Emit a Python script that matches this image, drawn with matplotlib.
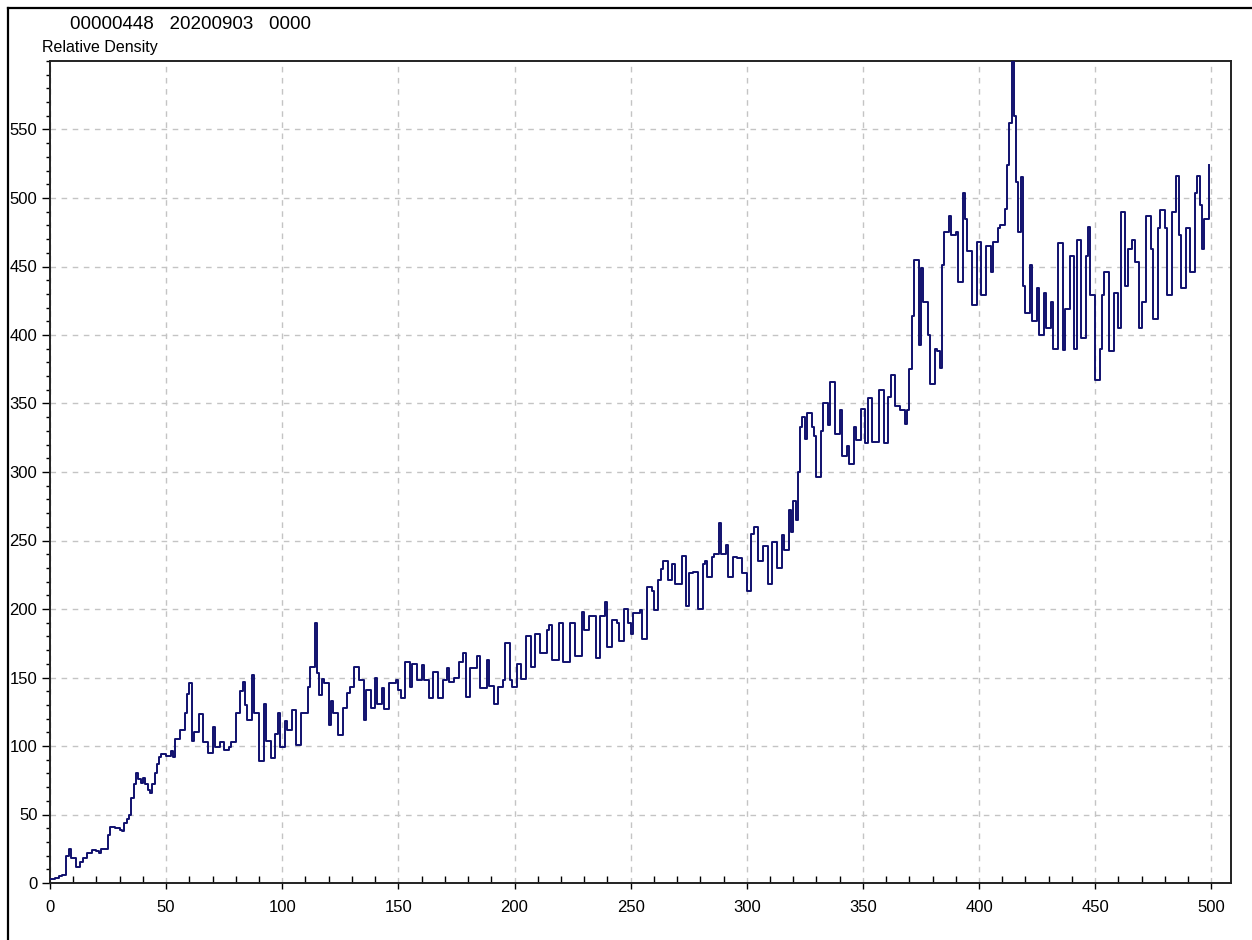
import matplotlib
matplotlib.use("Agg")
import matplotlib.pyplot as plt
from matplotlib.lines import Line2D
from matplotlib.ticker import MultipleLocator, FixedLocator

plt.rcParams['font.family'] = ['Liberation Sans', 'DejaVu Sans']

# Density profile samples: position along the lane and relative density
position = [
    0, 2, 4, 5, 7, 8, 9, 11, 13, 14, 16, 18, 20, 21, 22, 24, 25, 26, 28, 30,
    31, 32, 33, 34, 35, 36, 37, 38, 39, 40, 41, 42, 43, 44, 45, 46, 47, 48, 50, 52,
    53, 54, 56, 58, 59, 60, 61, 62, 64, 66, 68, 70, 71, 73, 75, 77, 78, 80, 82, 83,
    84, 85, 87, 88, 90, 92, 93, 95, 97, 98, 99, 101, 102, 104, 106, 108, 110, 111, 112, 114,
    115, 116, 117, 118, 120, 121, 122, 124, 126, 128, 129, 131, 133, 135, 136, 138, 140, 141, 143, 144,
    146, 149, 150, 151, 153, 155, 156, 158, 160, 161, 163, 165, 167, 169, 171, 172, 174, 176, 178, 179,
    181, 184, 185, 188, 189, 191, 193, 195, 196, 198, 199, 201, 203, 205, 207, 209, 211, 214, 215, 216,
    219, 221, 224, 226, 229, 230, 232, 235, 237, 239, 240, 242, 244, 245, 247, 249, 250, 251, 254, 255,
    257, 259, 260, 262, 263, 264, 266, 268, 269, 272, 274, 275, 277, 279, 281, 282, 283, 285, 286, 288,
    289, 291, 292, 294, 296, 298, 300, 302, 303, 305, 307, 309, 311, 313, 315, 316, 318, 319, 320, 321,
    322, 323, 324, 325, 326, 328, 329, 330, 332, 333, 335, 336, 338, 340, 341, 343, 344, 346, 347, 349,
    351, 352, 354, 357, 359, 361, 362, 364, 366, 368, 369, 370, 371, 372, 374, 375, 376, 378, 379, 381,
    382, 383, 384, 385, 387, 388, 390, 391, 393, 394, 395, 397, 399, 401, 403, 405, 406, 408, 409, 411,
    412, 413, 414, 415, 416, 417, 418, 419, 420, 422, 423, 425, 426, 428, 429, 431, 432, 434, 436, 437,
    439, 441, 442, 444, 446, 447, 448, 450, 452, 453, 454, 456, 458, 460, 461, 463, 464, 466, 467, 469,
    470, 472, 474, 475, 477, 478, 480, 481, 483, 485, 486, 487, 489, 491, 493, 494, 495, 496, 497, 499,
]
density = [
    3, 4, 5, 6, 20, 25, 18, 12, 15, 18, 22, 24, 23, 22, 25, 25, 35, 41, 40, 39,
    38, 44, 47, 50, 62, 72, 80, 76, 73, 77, 72, 68, 66, 72, 80, 87, 92, 94, 93, 96,
    92, 105, 112, 124, 138, 146, 104, 110, 123, 103, 95, 114, 99, 103, 97, 99, 103, 124, 140, 147,
    130, 119, 152, 124, 89, 131, 104, 91, 109, 124, 99, 118, 112, 126, 101, 124, 124, 143, 158, 190,
    153, 137, 149, 146, 115, 133, 124, 108, 128, 139, 143, 158, 148, 119, 141, 128, 150, 131, 142, 127,
    146, 148, 141, 135, 161, 143, 160, 148, 159, 148, 135, 154, 135, 148, 157, 147, 150, 161, 168, 136,
    157, 166, 142, 163, 144, 131, 143, 148, 175, 148, 143, 160, 149, 180, 158, 182, 168, 185, 188, 163,
    190, 161, 190, 166, 198, 185, 195, 164, 195, 205, 172, 192, 190, 177, 200, 190, 182, 197, 199, 178,
    216, 213, 199, 221, 229, 235, 221, 233, 218, 239, 202, 226, 227, 200, 233, 235, 223, 238, 240, 263,
    240, 247, 223, 238, 237, 226, 213, 255, 260, 235, 246, 218, 249, 230, 254, 243, 272, 256, 279, 265,
    300, 333, 340, 324, 343, 333, 326, 296, 330, 350, 334, 366, 328, 345, 312, 319, 306, 333, 323, 346,
    321, 354, 322, 360, 321, 355, 371, 348, 345, 335, 345, 375, 414, 455, 393, 449, 424, 400, 364, 390,
    388, 376, 451, 475, 487, 473, 475, 439, 504, 485, 461, 422, 468, 429, 465, 446, 468, 478, 480, 492,
    524, 555, 600, 560, 512, 475, 515, 436, 416, 451, 410, 434, 400, 431, 405, 424, 390, 467, 389, 419,
    458, 390, 469, 398, 458, 479, 429, 367, 390, 429, 446, 388, 431, 405, 490, 436, 463, 469, 453, 405,
    424, 487, 463, 412, 478, 491, 478, 429, 490, 516, 473, 434, 478, 446, 504, 516, 495, 463, 485, 524,
]

x_major = list(range(0, 501, 50))
y_major = list(range(0, 551, 50))

fig = plt.figure(figsize=(12.52, 9.40), dpi=100)
ax = fig.add_axes([50 / 1252, 1 - 883 / 940, (1231 - 50) / 1252, (883 - 61) / 940])

ax.step(position, density, where='post', color='#10106e', linewidth=1.4, zorder=3)

ax.set_xlim(0, 508.5)
ax.set_ylim(0, 600)

ax.xaxis.set_major_locator(FixedLocator(x_major))
ax.yaxis.set_major_locator(FixedLocator(y_major))
ax.xaxis.set_minor_locator(MultipleLocator(10))
ax.yaxis.set_minor_locator(MultipleLocator(10))

ax.grid(True, which='major', color='#c4c4c4', linestyle=(0, (4, 4)), linewidth=1.0, zorder=1)

ax.tick_params(axis='both', which='major', labelsize=12, colors='black', width=1.0)
ax.tick_params(axis='y', which='major', direction='out', length=6, pad=3)
ax.tick_params(axis='y', which='minor', direction='out', length=3, width=1.0)
ax.tick_params(axis='x', which='major', direction='out', length=4, pad=8)
ax.tick_params(axis='x', which='minor', direction='in', length=5, width=1.0)

for side in ('left', 'right', 'top', 'bottom'):
    ax.spines[side].set_linewidth(1.4)
    ax.spines[side].set_color('#222222')

fig.text(70 / 1252, 1 - 29 / 940, '00000448   20200903   0000', fontsize=13.5,
         ha='left', va='baseline')
fig.text(42 / 1252, 1 - 52 / 940, 'Relative Density', fontsize=11.5,
         ha='left', va='baseline')

# window frame on the left and top edges
fig.add_artist(Line2D([7.5 / 1252, 7.5 / 1252], [0, 1 - 7.5 / 940],
                      transform=fig.transFigure, color='black', linewidth=1.6))
fig.add_artist(Line2D([7.5 / 1252, 1], [1 - 7.5 / 940, 1 - 7.5 / 940],
                      transform=fig.transFigure, color='black', linewidth=1.6))

fig.savefig('out.png', dpi=100, facecolor='white')
